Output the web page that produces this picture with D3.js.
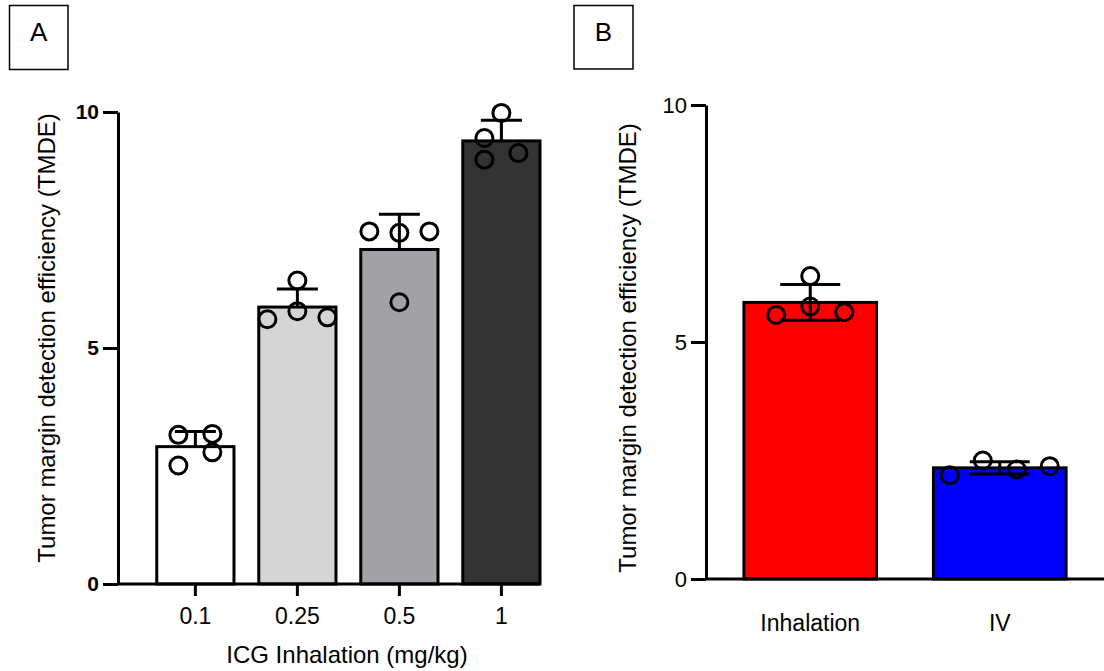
<!DOCTYPE html>
<html>
<head>
<meta charset="utf-8">
<script src="https://cdn.jsdelivr.net/npm/d3@7"></script>
<style>
  body { margin: 0; background: #fff; }
  svg { display: block; }
  text { font-family: "Liberation Sans", Arial, sans-serif; fill: #000; }
</style>
</head>
<body>
<svg id="chart" width="1104" height="671"></svg>
<script>
// panel A: dose groups, 4 animals each
var doseLabels = ["0.1", "0.25", "0.5", "1"];
var doseValues = [
  [3.16, 3.18, 2.79, 2.51],
  [5.61, 6.43, 5.78, 5.65],
  [7.47, 7.44, 7.47, 5.97],
  [9.98, 9.45, 8.99, 9.13]
];
// panel B: route of administration
var routeLabels = ["Inhalation", "IV"];
var routeValues = [
  [6.39, 5.75, 5.57, 5.63],
  [2.19, 2.50, 2.31, 2.38]
];
var yTicks = [0, 5, 10];
var yLabel = "Tumor margin detection efficiency (TMDE)";
var doseTitle = "ICG Inhalation (mg/kg)";

var doseColors = ["#ffffff", "#d4d4d4", "#a2a1a6", "#333333"];
var routeColors = ["#ff0000", "#0000ff"];
// sideways spread of the dots (px) so they don't overlap
var doseJitter = [[-17, 17, 17, -17], [-30, 0, 0, 30], [-30, 0, 30, 0], [0, -17, -17, 17]];
var routeJitter = [[0, 0, -34, 34], [-50, -17, 17, 50]];

var svg = d3.select("#chart");

function drawPanel(o) {
  var g = svg.append("g");

  var y = d3.scaleLinear().domain([0, 10]).range([o.bottom, o.top]);
  var x = d3.scaleBand()
    .domain(o.labels)
    .range([o.left, o.right])
    .paddingInner(o.padIn)
    .paddingOuter(o.padOut)
    .align(o.align);

  var groups = o.values.map(function(v, i) {
    return {
      label: o.labels[i],
      mean: d3.mean(v),
      sd: d3.deviation(v),
      color: o.colors[i],
      pts: v.map(function(d, j) { return { v: d, dx: o.jitter[i][j] }; })
    };
  });

  // bars
  g.selectAll("rect.bar").data(groups).join("rect")
    .attr("class", "bar")
    .attr("x", function(d) { return x(d.label); })
    .attr("y", function(d) { return y(d.mean); })
    .attr("width", x.bandwidth())
    .attr("height", function(d) { return y(0) - y(d.mean); })
    .attr("fill", function(d) { return d.color; })
    .attr("stroke", "#000")
    .attr("stroke-width", 3);

  // error bars (SD)
  var cx = function(d) { return x(d.label) + x.bandwidth() / 2; };
  var err = g.selectAll("g.err").data(groups).join("g").attr("class", "err")
    .attr("stroke", "#000").attr("stroke-width", 3);
  err.append("line")
    .attr("x1", cx).attr("x2", cx)
    .attr("y1", function(d) { return o.both ? y(d.mean - d.sd) : y(d.mean); })
    .attr("y2", function(d) { return y(d.mean + d.sd); });
  err.append("line")
    .attr("x1", function(d) { return cx(d) - o.cap / 2; })
    .attr("x2", function(d) { return cx(d) + o.cap / 2; })
    .attr("y1", function(d) { return y(d.mean + d.sd); })
    .attr("y2", function(d) { return y(d.mean + d.sd); });
  if (o.both) {
    err.append("line")
      .attr("x1", function(d) { return cx(d) - o.cap / 2; })
      .attr("x2", function(d) { return cx(d) + o.cap / 2; })
      .attr("y1", function(d) { return y(d.mean - d.sd); })
      .attr("y2", function(d) { return y(d.mean - d.sd); });
  }

  // individual animals
  groups.forEach(function(grp) {
    g.selectAll(null).data(grp.pts).join("circle")
      .attr("cx", function(d) { return cx(grp) + d.dx; })
      .attr("cy", function(d) { return y(d.v); })
      .attr("r", 8.5)
      .attr("fill", "none")
      .attr("stroke", "#000")
      .attr("stroke-width", 3);
  });

  // y axis
  var ya = g.append("g")
    .attr("transform", "translate(" + o.left + ",0)")
    .call(d3.axisLeft(y).tickValues(yTicks).tickSize(15).tickSizeOuter(0).tickPadding(4));
  ya.selectAll("path, line").attr("stroke", "#000").attr("stroke-width", 3);
  ya.selectAll("text")
    .attr("font-size", o.boldTicks ? 21 : 22)
    .attr("font-weight", o.boldTicks ? "bold" : "normal")
    .attr("font-family", "'Liberation Sans', Arial, sans-serif")
    .attr("fill", "#000");

  // x axis
  var xa = g.append("g")
    .attr("transform", "translate(0," + y(0) + ")")
    .call(d3.axisBottom(x).tickSize(o.xTick).tickSizeOuter(0).tickPadding(o.xPad));
  xa.select(".domain").remove();
  xa.selectAll("line").attr("stroke", "#000").attr("stroke-width", 3);
  xa.selectAll("text")
    .attr("font-size", 23)
    .attr("font-family", "'Liberation Sans', Arial, sans-serif")
    .attr("fill", "#000");
  g.append("line")
    .attr("x1", o.left).attr("x2", o.axisEnd)
    .attr("y1", y(0)).attr("y2", y(0))
    .attr("stroke", "#000").attr("stroke-width", 3);

  // y title
  g.append("text")
    .attr("transform", "translate(" + o.yTitleX + "," + o.yTitleY + ") rotate(-90)")
    .attr("text-anchor", "middle")
    .attr("font-size", 24)
    .text(yLabel);

  if (o.xTitle) {
    g.append("text")
      .attr("x", o.xTitleX).attr("y", o.xTitleY)
      .attr("text-anchor", "middle")
      .attr("font-size", 24)
      .text(o.xTitle);
  }

  // panel letter box
  g.append("rect")
    .attr("x", o.box[0]).attr("y", o.box[1])
    .attr("width", o.box[2]).attr("height", o.box[3])
    .attr("fill", "none").attr("stroke", "#000").attr("stroke-width", 1.5);
  g.append("text")
    .attr("x", o.box[0] + o.box[2] / 2).attr("y", o.box[1] + 35)
    .attr("text-anchor", "middle")
    .attr("font-size", 26)
    .text(o.letter);
}

drawPanel({
  letter: "A", box: [9.5, 5.5, 58.5, 64],
  labels: doseLabels, values: doseValues, colors: doseColors, jitter: doseJitter,
  left: 118, right: 540, top: 112, bottom: 584,
  padIn: 0.243, padOut: 0.19, align: 1,
  cap: 41, both: false, boldTicks: true,
  xTick: 12, xPad: 12, axisEnd: 540,
  yTitleX: 55, yTitleY: 338,
  xTitle: doseTitle, xTitleX: 347, xTitleY: 663
});

drawPanel({
  letter: "B", box: [574, 5.5, 59, 63.5],
  labels: routeLabels, values: routeValues, colors: routeColors, jitter: routeJitter,
  left: 706, right: 1104, top: 105, bottom: 579,
  padIn: 0.30, padOut: 0.2, align: 0.5,
  cap: 60, both: true, boldTicks: false,
  xTick: 0, xPad: 36, axisEnd: 1104,
  yTitleX: 636, yTitleY: 348
});
</script>
</body>
</html>
